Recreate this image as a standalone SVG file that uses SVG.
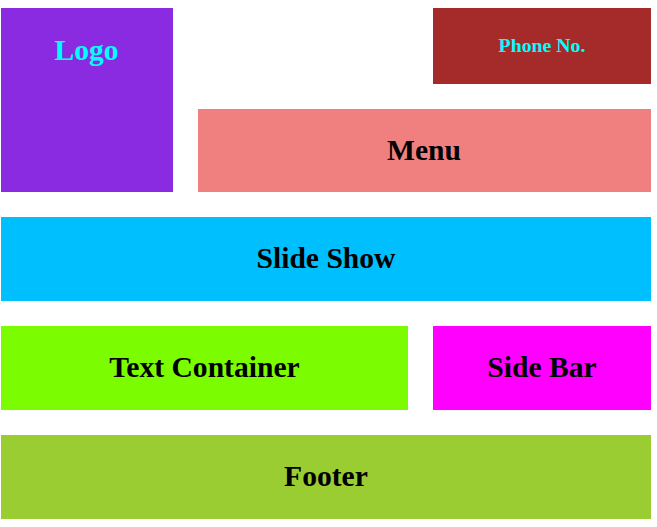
<svg xmlns="http://www.w3.org/2000/svg" width="657" height="527" viewBox="0 0 657 527">
<style>
text{font-family:"Liberation Serif","Times New Roman",serif;font-weight:bold;text-anchor:middle;font-size:29.6px;fill:#000}
.cy{fill:#00FFFF}
</style>
<rect width="657" height="527" fill="#fff"/>
<g id="logo"><rect x="1" y="8" width="172" height="184" fill="#8A2BE2"/><text class="cy" x="86.5" y="59.5">Logo</text></g>
<g id="phone"><rect x="433" y="8" width="218" height="76" fill="#A52A2A"/><text class="cy" x="542" y="52.3" style="font-size:19.8px">Phone No.</text></g>
<g id="menu"><rect x="198" y="109" width="453" height="83" fill="#F08080"/><text x="424" y="160">Menu</text></g>
<g id="slideshow"><rect x="1" y="217" width="650" height="84" fill="#00BFFF"/><text x="326" y="268">Slide Show</text></g>
<g id="textcontainer"><rect x="1" y="326" width="407" height="84" fill="#7CFC00"/><text x="204.5" y="377">Text Container</text></g>
<g id="sidebar"><rect x="433" y="326" width="218" height="84" fill="#FF00FF"/><text x="542" y="377">Side Bar</text></g>
<g id="footer"><rect x="1" y="435" width="650" height="84" fill="#9ACD32"/><text x="326" y="486">Footer</text></g>
<g id="connectors"/>
</svg>
